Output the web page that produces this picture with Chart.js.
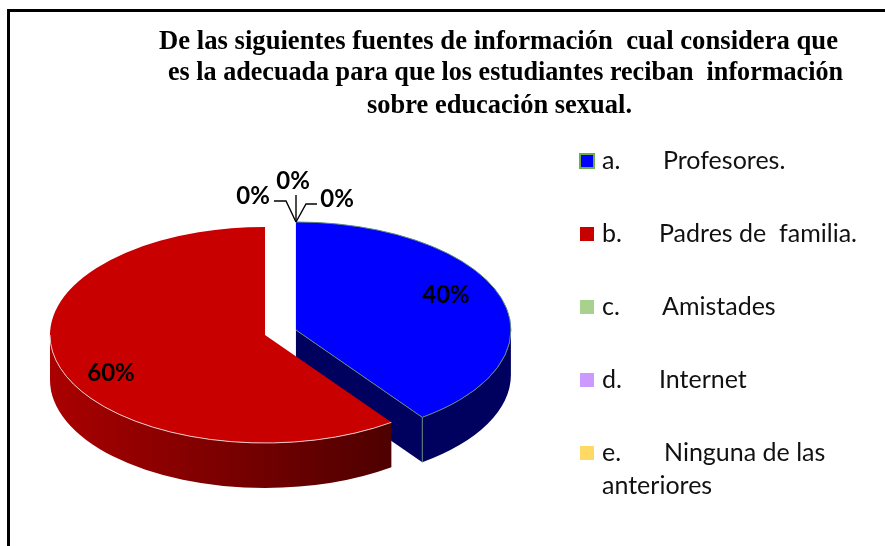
<!DOCTYPE html>
<html>
<head>
<meta charset="utf-8">
<style>
  html, body { margin: 0; padding: 0; background: #fff; overflow: hidden; }
  #wrap { width: 885px; height: 546px; position: relative; }
</style>
<script src="https://cdn.jsdelivr.net/npm/chart.js@4"></script>
</head>
<body>
<div id="wrap"><canvas id="pie" width="885" height="546"></canvas></div>
<script>
const titleLines = [
  'De las siguientes fuentes de información  cual considera que',
  'es la adecuada para que los estudiantes reciban  información',
  'sobre educación sexual.'
];
const letters = ['a.', 'b.', 'c.', 'd.', 'e.'];
const names = ['Profesores.', 'Padres de  familia.', 'Amistades', 'Internet', 'Ninguna de las'];
const extraLine = ['', '', '', '', 'anteriores'];
const values = [40, 60, 0, 0, 0];
const colors = ['#0000ff', '#c80000', '#a9d18e', '#cc99ff', '#ffd966'];

// 3D look: the pie is squashed, then the side walls are painted under it
const pieRx = 215, pieRy = 108, depth = 45;
const pieX = 265, pieY = 335;
const explode = [32.5, 0, 0, 0, 0];
const wallColors = ['#00005f', null];
const rimColors = ['#5f8a78', '#ecc8c8'];

const labelFont = 'bold 24px Lato';
const labelPos = [[446, 295], [111, 373], [253, 196], [293, 181], [337, 199]];
const leaders = [
  null, null,
  [[274, 201], [286, 201], [296, 222]],
  [[296, 195], [296, 222]],
  [[317, 204], [306, 204], [296, 222]]
];
const nameX = [663, 659, 662, 659, 664];
const legendY = [161, 234, 307, 380, 453];

function sliceCenter(el, i) {
  const mid = (el.startAngle + el.endAngle) / 2;
  return [
    pieX + Math.cos(mid) * explode[i],
    pieY + Math.sin(mid) * explode[i] * pieRy / pieRx
  ];
}

function drawWalls(ctx, el, i, cx, cy) {
  const a0 = Math.max(el.startAngle, 0);
  const a1 = Math.min(el.endAngle, Math.PI);
  if (a1 <= a0) return;
  if (wallColors[i]) {
    ctx.fillStyle = wallColors[i];
  } else {
    const grad = ctx.createLinearGradient(pieX - pieRx, 0, 391, 0);
    grad.addColorStop(0, '#aa0000');
    grad.addColorStop(1, '#4e0000');
    ctx.fillStyle = grad;
  }
  // cut face on the slice end, only seen on the pulled out slice
  if (explode[i] > 0) {
    const ex = cx + Math.cos(a1) * pieRx, ey = cy + Math.sin(a1) * pieRy;
    ctx.beginPath();
    ctx.moveTo(cx, cy);
    ctx.lineTo(ex, ey);
    ctx.lineTo(ex, ey + depth);
    ctx.lineTo(cx, cy + depth);
    ctx.closePath();
    ctx.fill();
  }
  ctx.beginPath();
  ctx.ellipse(cx, cy, pieRx, pieRy, 0, a0, a1);
  ctx.ellipse(cx, cy + depth, pieRx, pieRy, 0, a1, a0, true);
  ctx.closePath();
  ctx.fill();
}

const pie3d = {
  id: 'pie3d',
  beforeDatasetsDraw(chart) {
    const ctx = chart.ctx;
    const arcs = chart.getDatasetMeta(0).data;
    arcs.forEach((el, i) => {
      if (!values[i]) return;
      const [cx, cy] = sliceCenter(el, i);
      drawWalls(ctx, el, i, cx, cy);
      // top face, drawn by the arc element itself
      ctx.save();
      ctx.translate(cx, cy);
      ctx.scale(pieRx / el.outerRadius, pieRy / el.outerRadius);
      ctx.translate(-el.x, -el.y);
      el.draw(ctx);
      ctx.restore();
      // light rim line
      ctx.strokeStyle = rimColors[i];
      ctx.lineWidth = 1;
      ctx.beginPath();
      ctx.ellipse(cx, cy, pieRx, pieRy, 0, el.startAngle, i === 1 ? Math.PI : el.endAngle);
      ctx.stroke();
      if (explode[i] > 0) {
        const a = el.endAngle;
        const ex = cx + Math.cos(a) * pieRx, ey = cy + Math.sin(a) * pieRy;
        ctx.beginPath();
        ctx.moveTo(cx, cy);
        ctx.lineTo(ex, ey);
        ctx.lineTo(ex, ey + depth);
        ctx.stroke();
      }
    });
    return false;
  },
  afterDraw(chart) {
    const ctx = chart.ctx;
    ctx.save();
    // frame
    ctx.strokeStyle = '#000';
    ctx.lineWidth = 3;
    ctx.beginPath();
    ctx.moveTo(8.5, 546);
    ctx.lineTo(8.5, 10.5);
    ctx.lineTo(885, 10.5);
    ctx.stroke();

    // title
    ctx.fillStyle = '#000';
    ctx.textAlign = 'center';
    ctx.textBaseline = 'middle';
    ctx.font = 'bold 27px "Liberation Serif"';
    const titleX = [498.5, 505.5, 499.5], titleY = [42, 73, 106], titleW = [679, 675, 265];
    titleLines.forEach((t, i) => ctx.fillText(t, titleX[i], titleY[i], titleW[i]));

    // percent labels
    const total = values.reduce((a, b) => a + b, 0);
    ctx.font = labelFont;
    values.forEach((v, i) => {
      ctx.fillText(Math.round(v / total * 100) + '%', labelPos[i][0], labelPos[i][1]);
    });
    ctx.lineWidth = 1.4;
    ctx.strokeStyle = '#000';
    leaders.forEach(pts => {
      if (!pts) return;
      ctx.beginPath();
      pts.forEach((p, k) => k ? ctx.lineTo(p[0], p[1]) : ctx.moveTo(p[0], p[1]));
      ctx.stroke();
    });

    // legend
    ctx.textAlign = 'left';
    ctx.font = '25px Lato';
    letters.forEach((l, i) => {
      const y = legendY[i];
      ctx.fillStyle = colors[i];
      ctx.fillRect(580, y - 7, 14, 14);
      if (i === 0) {
        ctx.strokeStyle = '#70ad47';
        ctx.lineWidth = 2;
        ctx.strokeRect(580, y - 7, 14, 14);
      }
      ctx.fillStyle = '#111';
      ctx.fillText(l, 602, y);
      ctx.fillText(names[i], nameX[i], y);
      if (extraLine[i]) ctx.fillText(extraLine[i], 602, y + 33);
    });
    ctx.restore();
  }
};

new Chart(document.getElementById('pie'), {
  type: 'pie',
  data: {
    labels: names,
    datasets: [{ data: values, backgroundColor: colors, borderWidth: 0 }]
  },
  options: {
    responsive: false,
    animation: false,
    layout: { padding: { left: 50, right: 405, top: 124, bottom: 0 } },
    plugins: { legend: { display: false }, tooltip: { enabled: false } }
  },
  plugins: [pie3d]
});
</script>
</body>
</html>
